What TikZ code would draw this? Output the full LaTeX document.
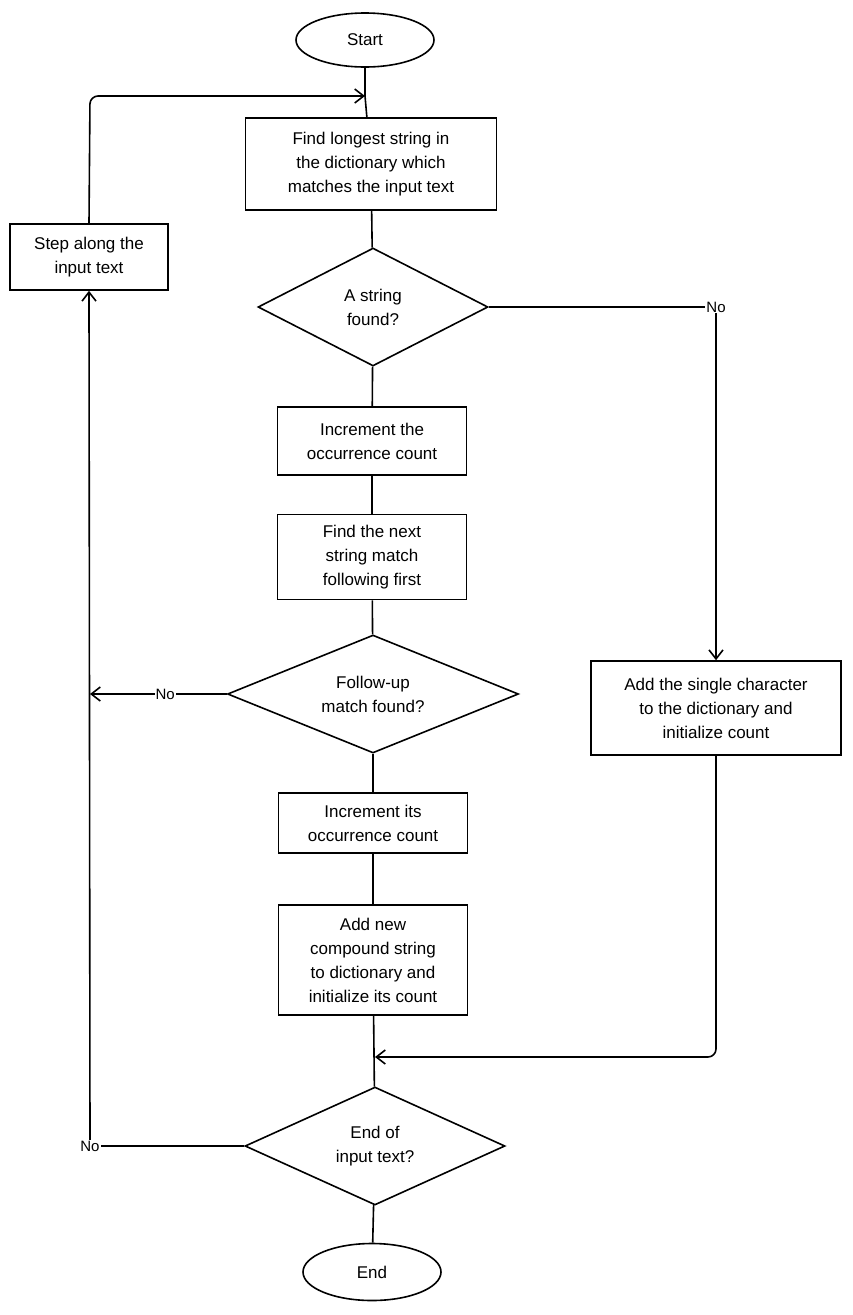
\documentclass[tikz,border=0pt]{standalone}
\usepackage{fontspec}
\setmainfont{Liberation Sans}
\usetikzlibrary{shapes.geometric,arrows.meta}
\begin{document}
\begin{tikzpicture}[x=1pt,y=-1pt,
  every node/.style={font=\fontsize{17}{24}\selectfont, align=center},
  boxx/.style={draw, line width=1.6pt, inner sep=0pt},
  lbl/.style={fill=white, inner sep=1pt, font=\fontsize{15}{16}\selectfont},
  ln/.style={line width=1.6pt},
  arr/.style={line width=1.6pt, -{Straight Barb[length=9pt,width=14pt]}}]
\useasboundingbox (0,0) rectangle (853,1315);
\node[boxx, ellipse, minimum width=138pt, minimum height=54pt] (start) at (365,40) {Start};
\node[boxx, minimum width=251pt, minimum height=92pt] (b1) at (371,164) {Find longest string in\\the dictionary which\\matches the input text};
\node[boxx, diamond, aspect=1.95, minimum width=230pt, minimum height=118pt] (d1) at (373,307) {A string\\found?};
\node[boxx, minimum width=189pt, minimum height=68pt] (b2) at (372,441) {Increment the\\occurrence count};
\node[boxx, minimum width=189pt, minimum height=85pt] (b3) at (372,557) {Find the next\\string match\\following first};
\node[boxx, diamond, aspect=2.47, minimum width=291pt, minimum height=118pt] (d2) at (373,694) {Follow-up\\match found?};
\node[boxx, minimum width=189pt, minimum height=60pt] (b4) at (373,823) {Increment its\\occurrence count};
\node[boxx, minimum width=189pt, minimum height=110pt] (b5) at (373,960) {Add new\\compound string\\to dictionary and\\initialize its count};
\node[boxx, diamond, aspect=2.2, minimum width=260pt, minimum height=118pt] (d3) at (375,1146) {End of\\input text?};
\node[boxx, ellipse, minimum width=138pt, minimum height=57pt] (end) at (372,1272) {End};
\node[boxx, minimum width=158pt, minimum height=66pt] (step) at (89,257) {Step along the\\input text};
\node[boxx, minimum width=250pt, minimum height=94pt] (add) at (716,708) {Add the single character\\to the dictionary and\\initialize count};
\coordinate (m1) at (365,96);
\coordinate (j1) at (375,1057);
\draw[ln] (start) -- (m1) -- (b1);
\draw[ln] (b1) -- (d1);
\draw[ln] (d1) -- (b2);
\draw[ln] (b2) -- (b3);
\draw[ln] (b3) -- (d2);
\draw[ln] (d2) -- (b4);
\draw[ln] (b4) -- (b5);
\draw[ln] (b5) -- (d3);
\draw[ln] (d3) -- (end);
\draw[arr] (d1.east) -- (716,307) node[lbl]{No} -- (add.north);
\draw[arr, rounded corners=8pt] (add.south) -- (716,1057) -- (j1);
\draw[arr] (d2.west) -- node[lbl, pos=0.45]{No} (90,694);
\draw[arr] (d3.west) -- (90,1146) node[lbl]{No} -- (step.south);
\draw[arr, rounded corners=8pt] (step.north) -- (90,96) -- (m1);
\end{tikzpicture}
\end{document}
